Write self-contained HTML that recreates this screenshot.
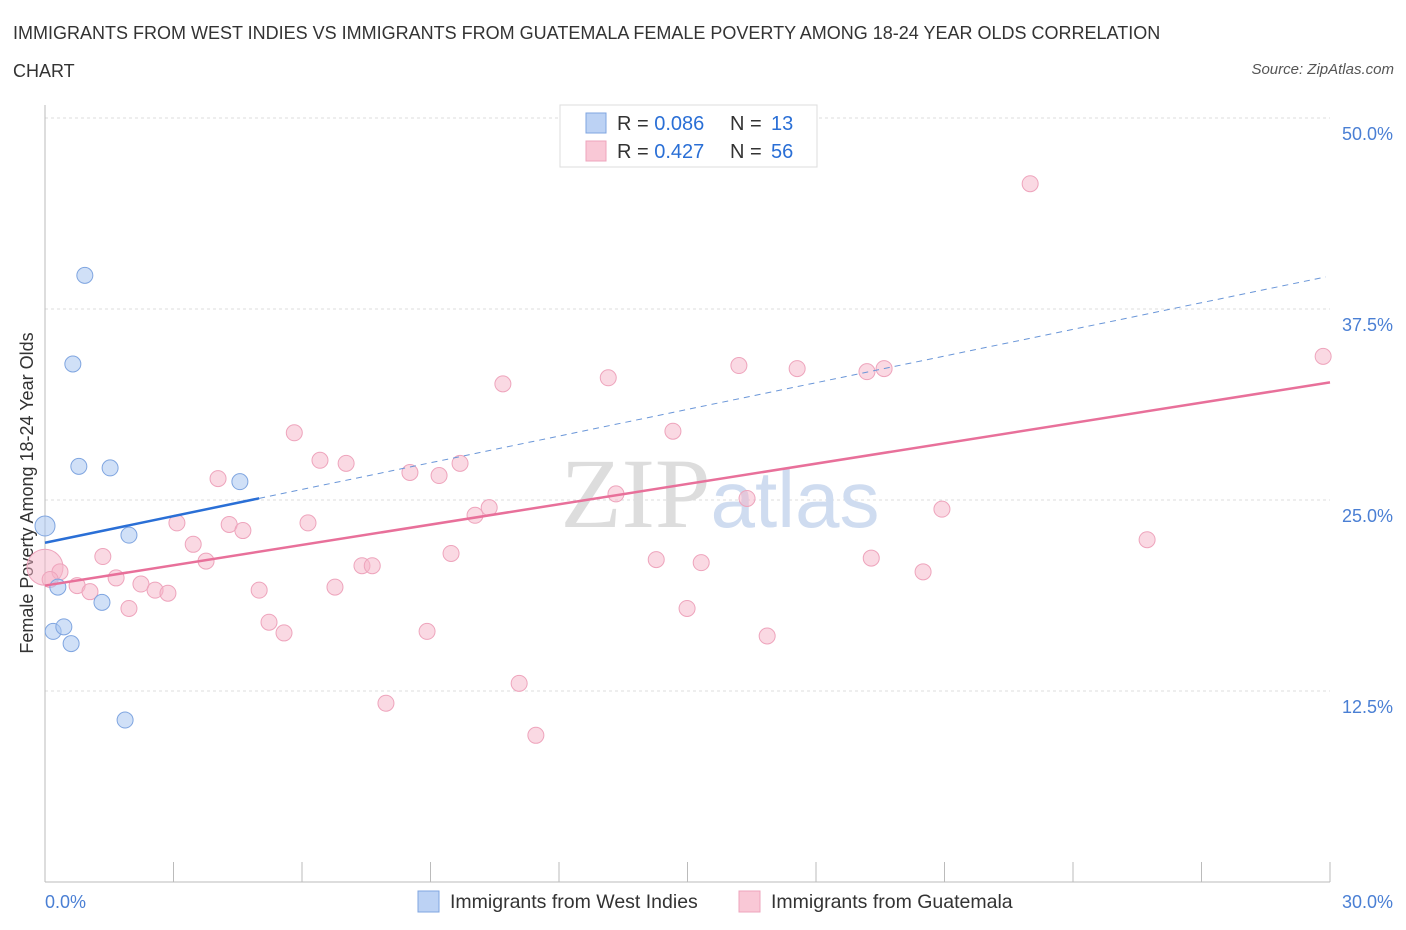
<!DOCTYPE html>
<html><head><meta charset="utf-8">
<style>
body{margin:0;background:#fff;font-family:"Liberation Sans",sans-serif;}
#wrap{position:relative;width:1406px;height:930px;overflow:hidden;}
.title{position:absolute;left:13px;top:14px;font-size:18px;color:#333;line-height:38px;width:1195px;}
.src{position:absolute;right:12px;top:61px;font-size:15px;color:#555;font-style:italic;}
</style></head>
<body><div id="wrap">
<div class="title">IMMIGRANTS FROM WEST INDIES VS IMMIGRANTS FROM GUATEMALA FEMALE POVERTY AMONG 18-24 YEAR OLDS CORRELATION CHART</div>
<div class="src">Source: ZipAtlas.com</div>
<svg id="svg" width="1406" height="930" style="position:absolute;left:0;top:0"></svg>
</div>
<script>
const blueX=[0,0.93,0.65,0.79,1.52,4.55,1.96,0.3,1.33,0.19,0.44,0.61,1.87];
const blueY=[23.3,39.7,33.9,27.2,27.1,26.2,22.7,19.3,18.3,16.4,16.7,15.6,10.6];
const pinkX=[0,0.35,0.75,1.05,1.35,1.66,1.96,2.24,2.57,2.87,3.08,3.46,3.76,4.04,4.30,4.62,5.00,5.23,5.58,5.82,6.14,6.42,6.77,7.03,7.40,7.64,7.96,8.52,8.92,9.20,9.48,9.69,10.04,10.37,10.69,11.07,11.46,13.15,13.33,14.27,14.66,14.99,15.32,16.20,16.39,16.86,17.56,19.19,19.29,19.59,20.50,20.94,23.00,25.73,29.84,0.12];
const pinkY=[20.6,20.3,19.4,19.0,21.3,19.9,17.9,19.5,19.1,18.9,23.5,22.1,21.0,26.4,23.4,23.0,19.1,17.0,16.3,29.4,23.5,27.6,19.3,27.4,20.7,20.7,11.7,26.8,16.4,26.6,21.5,27.4,24.0,24.5,32.6,13.0,9.6,33.0,25.4,21.1,29.5,17.9,20.9,33.8,25.1,16.1,33.6,33.4,21.2,33.6,20.3,24.4,45.7,22.4,34.4,19.8];
const yTicks=[12.5,25,37.5,50];
const yTickLabels=["12.5%","25.0%","37.5%","50.0%"];
const blueLine=[22.2,39.6]; const pinkLine=[19.4,32.7];
const X=v=>45+v*(1285/30), Y=v=>882-v*15.28;
const s=document.getElementById('svg'),NS='http://www.w3.org/2000/svg';
function mk(t,a,p){const e=document.createElementNS(NS,t);for(const k in a)e.setAttribute(k,a[k]);(p||s).appendChild(e);return e;}
yTicks.forEach((v,i)=>{
 const g=mk('line',{x1:45,x2:1330,y1:Y(v),y2:Y(v),stroke:'#ddd','stroke-dasharray':'3,3'});
 
 
 const t=mk('text',{x:1393,y:Y(v)+22,'text-anchor':'end','font-size':18,fill:'#4a7fd4'});t.textContent=yTickLabels[i];
 
 
});
const ax=mk('line',{x1:45,x2:1330,y1:882,y2:882,stroke:'#bbb'});


const ay=mk('line',{x1:45,x2:45,y1:105,y2:882,stroke:'#bbb'});


for(let i=0;i<=10;i++){const t=mk('line',{x1:X(i*3),x2:X(i*3),y1:862,y2:882,stroke:'#bbb'});
 
 }
[[0,'0.0%','start',45],[30,'30.0%','end',1393]].forEach(a=>{const t=mk('text',{x:a[3],y:908,'text-anchor':a[2],'font-size':18,fill:'#4a7fd4'});t.textContent=a[1];
 
 });
const yt=mk('text',{x:33,y:493,'text-anchor':'middle','font-size':18,fill:'#333',transform:'rotate(-90 33 493)'});yt.textContent='Female Poverty Among 18-24 Year Olds';


const wm=mk('text',{x:720,y:527,'text-anchor':'middle','font-size':100,fill:'#ddd','font-family':'Liberation Serif'});wm.innerHTML='ZIP<tspan fill="#cfdcf0" font-family="Liberation Sans" font-size="80">atlas</tspan>';


pinkX.forEach((v,i)=>{const c=mk('circle',{cx:X(v),cy:Y(pinkY[i]),r:i==0?18:8,fill:'rgba(246,180,200,0.5)',stroke:'#eea4bc','stroke-width':1});
 
 });
blueX.forEach((v,i)=>{const c=mk('circle',{cx:X(v),cy:Y(blueY[i]),r:i==0?10:8,fill:'rgba(170,198,240,0.55)',stroke:'#7fa5e0','stroke-width':1});
 
 });
const bsl=(blueLine[1]-blueLine[0])/29.9;
const b1=mk('line',{x1:X(0),y1:Y(blueLine[0]),x2:X(5),y2:Y(blueLine[0]+5*bsl),stroke:'#2a6fd6','stroke-width':2.5});


const b2=mk('line',{x1:X(5),y1:Y(blueLine[0]+5*bsl),x2:X(29.9),y2:Y(blueLine[1]),stroke:'#6a96d8','stroke-width':1,'stroke-dasharray':'6,5'});


const p1=mk('line',{x1:X(0),y1:Y(pinkLine[0]),x2:X(30),y2:Y(pinkLine[1]),stroke:'#e8709a','stroke-width':2.5});


const lg=mk('rect',{x:560,y:105,width:257,height:62,fill:'#fff',stroke:'#ddd'});


[[123,'#bcd2f4','#7fa5e0','0.086','13'],[151,'#f9c8d6','#eea4bc','0.427','56']].forEach(r=>{
 const q=mk('rect',{x:586,y:r[0]-10,width:20,height:20,fill:r[1],stroke:r[2]});
 
 
 const t=mk('text',{x:617,y:r[0]+7,'font-size':20,fill:'#333'});
 t.innerHTML='R = <tspan fill="#2a6fd6">'+r[3]+'</tspan><tspan x="730">N = </tspan><tspan x="771" fill="#2a6fd6">'+r[4]+'</tspan>';
 
 
});
[[418,'#bcd2f4','#7fa5e0','Immigrants from West Indies'],[739,'#f9c8d6','#eea4bc','Immigrants from Guatemala']].forEach(r=>{
 const q=mk('rect',{x:r[0],y:891,width:21,height:21,fill:r[1],stroke:r[2]});
 
 
 const t=mk('text',{x:r[0]+32,y:908,'font-size':19.5,fill:'#333'});t.textContent=r[3];
 
 
});
</script>
</body></html>
